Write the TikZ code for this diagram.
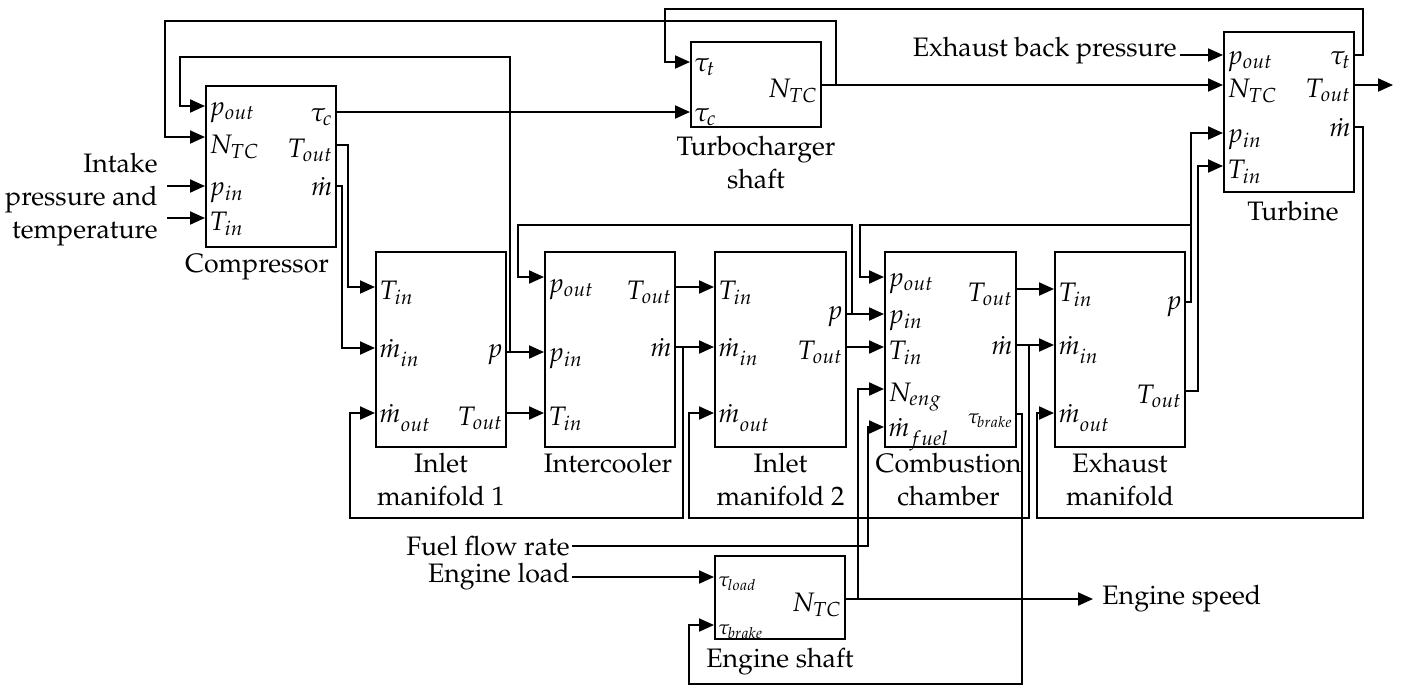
\documentclass[tikz,border=0pt]{standalone}
\usepackage[T1]{fontenc}
\usepackage{mathpazo}
\usetikzlibrary{arrows.meta,fit}
\newcommand\mdsub[1]{\dot{m}_{\raisebox{-2.5pt}{$\scriptstyle #1$}}}
\begin{document}
\begin{tikzpicture}[x=0.5pt,y=-0.5pt,
  font=\fontsize{13.35}{16.5}\selectfont,
  blk/.style={draw, line width=1pt, inner sep=0pt},
  sig/.style={line width=1pt, -{Triangle[length=7.5pt,width=6.5pt]}},
  lbl/.style={anchor=base west, inner sep=0pt, xshift=2pt, yshift=-6pt},
  lbll/.style={anchor=base west, inner sep=0pt, xshift=2pt, yshift=-4.5pt},
  rlbl/.style={anchor=base east, inner sep=0pt, xshift=-2pt, yshift=-6pt},
  rlbll/.style={anchor=base east, inner sep=0pt, xshift=-2pt, yshift=-4.5pt},
  smalltxt/.style={font=\fontsize{10}{12}\selectfont},
  blkcaption/.style={anchor=north, align=center, inner sep=0pt},
  txt/.style={inner sep=0pt}]
\useasboundingbox (0,0) rectangle (1401,687);

% ---------------- blocks
\node[blk, fit={(206,86)(336,247)}] (comp) {};
\node[blk, fit={(691,42)(821,127)}] (tcs) {};
\node[blk, fit={(1224,32)(1354,192)}] (turb) {};
\node[blk, fit={(376,252)(506,447)}] (im1) {};
\node[blk, fit={(545,252)(675,447)}] (ic) {};
\node[blk, fit={(715,252)(846,447)}] (im2) {};
\node[blk, fit={(885,252)(1016,447)}] (cc) {};
\node[blk, fit={(1055,252)(1185,447)}] (em) {};
\node[blk, fit={(715,556)(845,639)}] (es) {};

% ---------------- captions
\node[blkcaption] (compcap) at ([xshift=-7pt,yshift=-3pt]comp.south) {Compressor};
\node[blkcaption] (tcscap) at ([yshift=-4pt]tcs.south) {Turbocharger\\shaft};
\node[blkcaption] (turbcap) at ([xshift=2pt,yshift=-4pt]turb.south) {Turbine};
\node[blkcaption] (im1cap) at ([yshift=-2.5pt]im1.south) {Inlet\\manifold 1};
\node[blkcaption] (iccap) at ([xshift=-1pt,yshift=-2.5pt]ic.south) {Intercooler};
\node[blkcaption] (im2cap) at ([yshift=-2.5pt]im2.south) {Inlet\\manifold 2};
\node[blkcaption] (cccap) at ([xshift=-1pt,yshift=-2.5pt]cc.south) {Combustion\\chamber};
\node[blkcaption] (emcap) at ([yshift=-2.5pt]em.south) {Exhaust\\manifold};
\node[blkcaption] (escap) at ([yshift=-4pt]es.south) {Engine shaft};

% ---------------- ports
\coordinate (comp-pout) at (comp.west |- 0,106);
\coordinate (comp-ntc)  at (comp.west |- 0,137);
\coordinate (comp-pin)  at (comp.west |- 0,186);
\coordinate (comp-tin)  at (comp.west |- 0,218);
\coordinate (comp-tauc) at (comp.east |- 0,112);
\coordinate (comp-tout) at (comp.east |- 0,145);
\coordinate (comp-mdot) at (comp.east |- 0,186);

\coordinate (tcs-taut) at (tcs.west |- 0,62);
\coordinate (tcs-tauc) at (tcs.west |- 0,112);
\coordinate (tcs-ntc)  at (tcs.east |- 0,85);

\coordinate (turb-pout) at (turb.west |- 0,55);
\coordinate (turb-ntc)  at (turb.west |- 0,85);
\coordinate (turb-pin)  at (turb.west |- 0,133);
\coordinate (turb-tin)  at (turb.west |- 0,166);
\coordinate (turb-taut) at (turb.east |- 0,55);
\coordinate (turb-tout) at (turb.east |- 0,85);
\coordinate (turb-mdot) at (turb.east |- 0,127);

\coordinate (im1-tin)  at (im1.west |- 0,287);
\coordinate (im1-min)  at (im1.west |- 0,348);
\coordinate (im1-mout) at (im1.west |- 0,413);
\coordinate (im1-p)    at (im1.east |- 0,352);
\coordinate (im1-tout) at (im1.east |- 0,413);

\coordinate (ic-pout) at (ic.west |- 0,277);
\coordinate (ic-pin)  at (ic.west |- 0,352);
\coordinate (ic-tin)  at (ic.west |- 0,413);
\coordinate (ic-tout) at (ic.east |- 0,287);
\coordinate (ic-mdot) at (ic.east |- 0,347);

\coordinate (im2-tin)  at (im2.west |- 0,287);
\coordinate (im2-min)  at (im2.west |- 0,347);
\coordinate (im2-mout) at (im2.west |- 0,413);
\coordinate (im2-p)    at (im2.east |- 0,314);
\coordinate (im2-tout) at (im2.east |- 0,347);

\coordinate (cc-pout)   at (cc.west |- 0,277);
\coordinate (cc-pin)    at (cc.west |- 0,314);
\coordinate (cc-tin)    at (cc.west |- 0,347);
\coordinate (cc-neng)   at (cc.west |- 0,389);
\coordinate (cc-mfuel)  at (cc.west |- 0,427);
\coordinate (cc-tout)   at (cc.east |- 0,289);
\coordinate (cc-mdot)   at (cc.east |- 0,345);
\coordinate (cc-tbrake) at (cc.east |- 0,414);

\coordinate (em-tin)  at (em.west |- 0,289);
\coordinate (em-min)  at (em.west |- 0,345);
\coordinate (em-mout) at (em.west |- 0,413);
\coordinate (em-p)    at (em.east |- 0,302);
\coordinate (em-tout) at (em.east |- 0,391);

\coordinate (es-tload)  at (es.west |- 0,577);
\coordinate (es-tbrake) at (es.west |- 0,625);
\coordinate (es-ntc)    at (es.east |- 0,599);

% ---------------- port labels
\node[lbll] (L1) at (comp-pout) {$p_{out}$};
\node[lbl]  (L2) at ([yshift=-2pt]comp-ntc) {$N_{TC}$};
\node[lbll] (L3) at (comp-pin) {$p_{in}$};
\node[lbl]  (L4) at (comp-tin) {$T_{in}$};
\node[rlbll] (L5) at (comp-tauc) {$\tau_c$};
\node[rlbl] (L6) at (comp-tout) {$T_{out}$};
\node[rlbll] (L7) at (comp-mdot) {$\dot{m}$};

\node[lbll] (L8) at (tcs-taut) {$\tau_t$};
\node[lbll] (L9) at (tcs-tauc) {$\tau_c$};
\node[rlbl] (L10) at (tcs-ntc) {$N_{TC}$};

\node[lbll] (L11) at (turb-pout) {$p_{out}$};
\node[lbl]  (L12) at (turb-ntc) {$N_{TC}$};
\node[lbll] (L13) at (turb-pin) {$p_{in}$};
\node[lbl]  (L14) at (turb-tin) {$T_{in}$};
\node[rlbll] (L15) at (turb-taut) {$\tau_t$};
\node[rlbl] (L16) at (turb-tout) {$T_{out}$};
\node[rlbll] (L17) at (turb-mdot) {$\dot{m}$};

\node[lbl]  (L18) at (im1-tin) {$T_{in}$};
\node[lbll] (L19) at (im1-min) {$\mdsub{in}$};
\node[lbll] (L20) at (im1-mout) {$\mdsub{out}$};
\node[rlbll] (L21) at ([yshift=2pt]im1-p) {$p$};
\node[rlbl] (L22) at (im1-tout) {$T_{out}$};

\node[lbll] (L23) at ([yshift=-3pt]ic-pout) {$p_{out}$};
\node[lbll] (L24) at (ic-pin) {$p_{in}$};
\node[lbl]  (L25) at (ic-tin) {$T_{in}$};
\node[rlbl] (L26) at (ic-tout) {$T_{out}$};
\node[rlbll] (L27) at (ic-mdot) {$\dot{m}$};

\node[lbl]  (L28) at (im2-tin) {$T_{in}$};
\node[lbll] (L29) at (im2-min) {$\mdsub{in}$};
\node[lbll] (L30) at (im2-mout) {$\mdsub{out}$};
\node[rlbll] (L31) at ([yshift=2pt]im2-p) {$p$};
\node[rlbl] (L32) at (im2-tout) {$T_{out}$};

\node[lbll] (L33) at (cc-pout) {$p_{out}$};
\node[lbll] (L34) at (cc-pin) {$p_{in}$};
\node[lbl]  (L35) at (cc-tin) {$T_{in}$};
\node[lbl]  (L36) at (cc-neng) {$N_{eng}$};
\node[lbll] (L37) at (cc-mfuel) {$\mdsub{fuel}$};
\node[rlbl] (L38) at (cc-tout) {$T_{out}$};
\node[rlbll] (L39) at (cc-mdot) {$\dot{m}$};
\node[rlbll,smalltxt] (L40) at (cc-tbrake) {$\tau_{brake}$};

\node[lbl]  (L41) at (em-tin) {$T_{in}$};
\node[lbll] (L42) at (em-min) {$\mdsub{in}$};
\node[lbll] (L43) at (em-mout) {$\mdsub{out}$};
\node[rlbll] (L44) at ([yshift=1pt]em-p) {$p$};
\node[rlbl] (L45) at (em-tout) {$T_{out}$};

\node[lbll,smalltxt] (L46) at (es-tload) {$\tau_{load}$};
\node[lbll,smalltxt] (L47) at (es-tbrake) {$\tau_{brake}$};
\node[rlbl] (L48) at (es-ntc) {$N_{TC}$};

% ---------------- external texts
\node[txt, anchor=east, align=right] (intake) at (158,200) {Intake\\pressure and\\temperature};
\coordinate (intake-p) at (167,186);
\coordinate (intake-t) at (167,218);
\node[txt, anchor=east] (ebp) at (1177,51) {Exhaust back pressure};
\coordinate (ebp-out) at (1180,55);
\coordinate (tout-end) at (1393,85);
\node[txt, anchor=east] (fuel) at (570,546) {Fuel flow rate};
\node[txt, anchor=east] (load) at (570,577) {Engine load};
\node[txt, anchor=west] (espd) at (1102,599) {Engine speed};
\coordinate (espd-in) at (1093,599);

% ---------------- connectors
\draw[sig] (intake-p) -- (comp-pin);
\draw[sig] (intake-t) -- (comp-tin);
\draw[sig] (tcs-ntc) -- (836,85) -- (836,21) -- (165,21) -- (165,137) -- (comp-ntc);
\draw[sig] (tcs-ntc) -- (turb-ntc);
\draw[sig] (im1-p) -- (510,352) -- (510,57) -- (180,57) -- (180,106) -- (comp-pout);
\draw[sig] (im1-p) -- (ic-pin);
\draw[sig] (comp-tauc) -- (tcs-tauc);
\draw[sig] (comp-tout) -- (348,145) -- (348,287) -- (im1-tin);
\draw[sig] (comp-mdot) -- (342,186) -- (342,348) -- (im1-min);
\draw[sig] (turb-taut) -- (1363,55) -- (1363,9) -- (665,9) -- (665,62) -- (tcs-taut);
\draw[sig] (ebp-out) -- (turb-pout);
\draw[sig] (turb-tout) -- (tout-end);
\draw[sig] (turb-mdot) -- (1363,127) -- (1363,518) -- (1037,518) -- (1037,413) -- (em-mout);
\draw[sig] (em-p) -- (1191,302) -- (1191,133) -- (turb-pin);
\coordinate (emp-br) at (1191,225);
\draw[sig] (emp-br) -- (860,225) -- (860,277) -- (cc-pout);
\draw[sig] (em-tout) -- (1198,391) -- (1198,166) -- (turb-tin);
\draw[sig] (im1-tout) -- (ic-tin);
\draw[sig] (im2-p) -- (852,314) -- (852,225) -- (518,225) -- (518,277) -- (ic-pout);
\draw[sig] (im2-p) -- (cc-pin);
\draw[sig] (im2-tout) -- (cc-tin);
\draw[sig] (ic-tout) -- (im2-tin);
\draw[sig] (ic-mdot) -- (im2-min);
\coordinate (icm-br) at (683,347);
\draw[sig] (icm-br) -- (683,518) -- (350,518) -- (350,413) -- (im1-mout);
\draw[sig] (cc-mdot) -- (em-min);
\coordinate (ccm-br) at (1029,345);
\draw[sig] (ccm-br) -- (1029,518) -- (689,518) -- (689,413) -- (im2-mout);
\draw[sig] (cc-tout) -- (em-tin);
\draw[sig] (cc-tbrake) -- (1022,414) -- (1022,684) -- (689,684) -- (689,625) -- (es-tbrake);
\draw[sig] ([xshift=1pt]fuel.east) -- (868,546) -- (868,427) -- (cc-mfuel);
\draw[sig] ([xshift=1pt]load.east) -- (es-tload);
\draw[sig] (es-ntc) -- (espd-in);
\coordinate (esn-br) at (858,599);
\draw[sig] (esn-br) -- (858,389) -- (cc-neng);
\end{tikzpicture}
\end{document}
